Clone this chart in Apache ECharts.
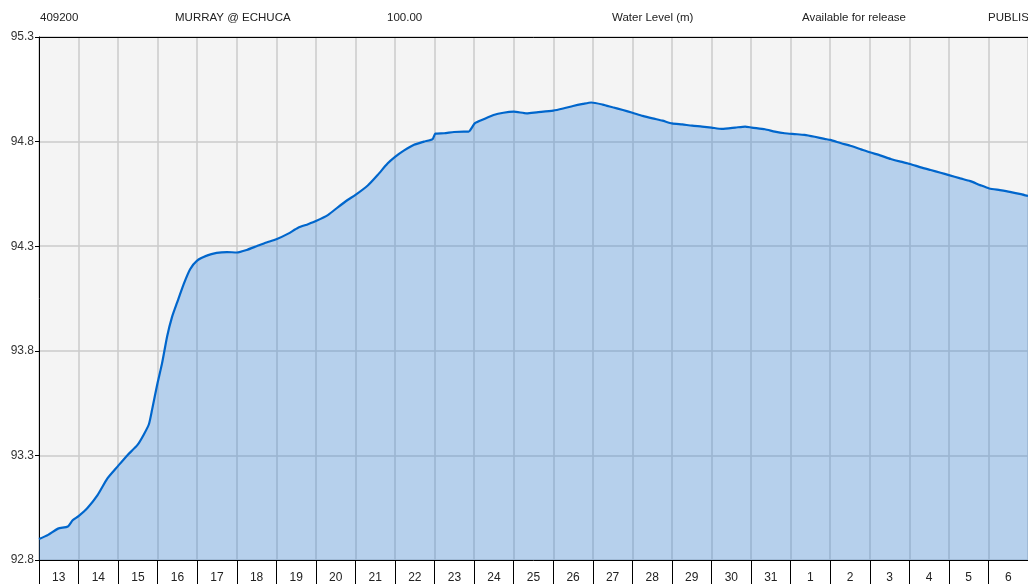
<!DOCTYPE html>
<html>
<head>
<meta charset="utf-8">
<script src="https://cdn.jsdelivr.net/npm/echarts@6/dist/echarts.min.js"></script>
<style>
  html, body { margin: 0; padding: 0; background: #fff; overflow: hidden; }
  #chart { width: 1028px; height: 584px; }
</style>
</head>
<body>
<div id="chart"></div>
<script>
// header fields across the top
const headerTexts = ['409200', 'MURRAY @ ECHUCA', '100.00', 'Water Level (m)', 'Available for release', 'PUBLISHED'];

// day labels under each column (13th .. 31st, then 1st .. 6th)
const dayLabels = ['13', '14', '15', '16', '17', '18', '19', '20', '21', '22', '23', '24', '25',
  '26', '27', '28', '29', '30', '31', '1', '2', '3', '4', '5', '6'];

// y axis tick values (m)
const yTicks = [92.8, 93.3, 93.8, 94.3, 94.8, 95.3];

// time since start of the 13th, in days
const days = [0, 0.23, 0.48, 0.73, 0.85, 1.0, 1.23, 1.48, 1.73, 2.0, 2.23, 2.49, 2.65, 2.78, 2.86,
  2.99, 3.11, 3.24, 3.36, 3.49, 3.66, 3.82, 3.99, 4.24, 4.49, 4.75, 5.0, 5.25, 5.5, 5.75, 6.0,
  6.3, 6.55, 6.8, 7.0, 7.31, 7.56, 7.81, 8.0, 8.31, 8.56, 8.81, 9.0, 9.23, 9.48, 9.73, 9.95,
  10.02, 10.24, 10.49, 10.74, 10.86, 11.02, 11.24, 11.49, 11.74, 12.0, 12.33, 12.58, 13.0,
  13.25, 13.5, 13.75, 13.96, 14.25, 14.5, 14.76, 15.0, 15.26, 15.51, 15.76, 16.0, 16.26, 16.51,
  16.76, 17.0, 17.26, 17.6, 17.85, 18.02, 18.35, 18.6, 18.85, 19.1, 19.35, 19.61, 19.86, 20.0,
  20.28, 20.53, 20.78, 21.0, 21.28, 21.53, 21.78, 22.02, 22.29, 22.54, 22.79, 23.0, 23.29,
  23.54, 23.79, 24.02, 24.29, 24.54, 24.82, 25.0];

// water level (m)
const levels = [92.90, 92.92, 92.95, 92.96, 92.99, 93.01, 93.05, 93.11, 93.19, 93.25, 93.30, 93.35,
  93.40, 93.45, 93.52, 93.64, 93.74, 93.87, 93.96, 94.03, 94.12, 94.19, 94.23, 94.255, 94.268,
  94.272, 94.27, 94.282, 94.30, 94.318, 94.333, 94.36, 94.388, 94.405, 94.42, 94.45, 94.487, 94.522,
  94.545, 94.59, 94.64, 94.695, 94.727, 94.758, 94.785, 94.80, 94.812, 94.838, 94.84, 94.846, 94.848,
  94.848, 94.888, 94.907, 94.927, 94.938, 94.943, 94.935, 94.94, 94.948, 94.958, 94.97, 94.98, 94.987,
  94.977, 94.964, 94.951, 94.938, 94.923, 94.911, 94.9, 94.887, 94.882, 94.876, 94.872, 94.867, 94.861,
  94.867, 94.872, 94.867, 94.859, 94.848, 94.84, 94.836, 94.832, 94.823, 94.813, 94.808, 94.792, 94.779,
  94.763, 94.749, 94.733, 94.717, 94.704, 94.693, 94.677, 94.664, 94.651, 94.64, 94.624, 94.611, 94.592,
  94.576, 94.568, 94.56, 94.549, 94.54];

const headerX = [40, 175, 387, 612, 802, 988];
const font = '"Liberation Sans", Arial, sans-serif';

const chart = echarts.init(document.getElementById('chart'), null, { renderer: 'canvas' });

chart.setOption({
  animation: false,
  backgroundColor: '#fff',
  textStyle: { fontFamily: font },
  grid: {
    left: 39,
    top: 37,
    width: 996,
    bottom: 24,
    show: true,
    backgroundColor: '#f4f4f4',
    borderWidth: 0
  },
  xAxis: [
    {
      type: 'value',
      min: 0,
      max: dayLabels.length,
      interval: 1,
      axisLine: { show: false },
      axisTick: { show: false },
      axisLabel: { show: false },
      splitLine: { show: true, lineStyle: { color: '#cbcbcb', width: 1.5 } }
    },
    {
      type: 'category',
      data: dayLabels,
      boundaryGap: true,
      position: 'bottom',
      axisLine: { show: true, lineStyle: { color: '#000', width: 1 } },
      axisTick: { show: true, length: 30, lineStyle: { color: '#000', width: 1 } },
      axisLabel: { color: '#222', fontSize: 12, margin: 12, fontFamily: font },
      splitLine: { show: false }
    }
  ],
  yAxis: {
    type: 'value',
    min: yTicks[0],
    max: yTicks[yTicks.length - 1],
    axisLine: { show: true, lineStyle: { color: '#000', width: 1 } },
    axisTick: { show: true, length: 4, customValues: yTicks, lineStyle: { color: '#000' } },
    axisLabel: {
      color: '#333', fontSize: 12, margin: 5, fontFamily: font,
      customValues: yTicks,
      formatter: v => v.toFixed(1)
    },
    splitLine: { show: true, lineStyle: { color: '#cbcbcb', width: 1.5 } }
  },
  series: [
    {
      type: 'line',
      xAxisIndex: 0,
      data: days.map((d, i) => [d, levels[i]]),
      showSymbol: false,
      smooth: 0.2,
      lineStyle: { color: '#0066cc', width: 2.2 },
      itemStyle: { color: '#0066cc' },
      areaStyle: { color: 'rgba(41,127,217,0.3)', opacity: 1, origin: 'start' },
      z: 3
    }
  ],
  graphic: headerTexts.map((t, i) => ({
    type: 'text',
    left: headerX[i],
    top: 12,
    style: { text: t, fill: '#222', font: '11.5px ' + font }
  })).concat([{
    // top frame line of the plot
    type: 'line',
    shape: { x1: 38.5, y1: 37.5, x2: 1028, y2: 37.5 },
    style: { stroke: '#000', lineWidth: 1 },
    z: 10
  }])
});
</script>
</body>
</html>
